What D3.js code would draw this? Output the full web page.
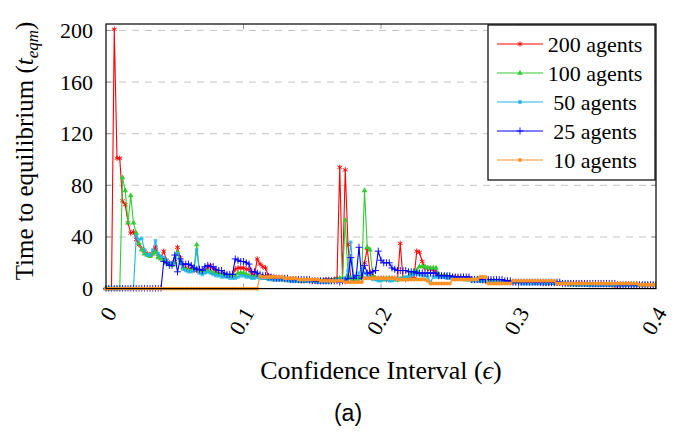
<!DOCTYPE html>
<html><head><meta charset="utf-8">
<script src="https://cdn.jsdelivr.net/npm/d3@7"></script>
<style>body{margin:0;background:#fff}svg{display:block}</style>
</head><body>
<svg id="chart" width="692" height="433"></svg>
<script>
// ---------------- DATA ----------------
const xTicks = [0, 0.1, 0.2, 0.3, 0.4];
const xTickLabels = ["0", "0.1", "0.2", "0.3", "0.4"];
const yTicks = [0, 40, 80, 120, 160, 200];
const yTickLabels = ["0", "40", "80", "120", "160", "200"];
const seriesNames = ["200 agents", "100 agents", "50 agents", "25 agents", "10 agents"];
const epsilonStep = 0.002; // sampling step of the confidence interval

const agents200 = [0,0,0,201,101,101,68,65,51,43,44,38,34,31,29,27,26,27,32,25,24,29,22,20,19,21,32,24,17,16,15,16,14,15,13,13,14,16,18,15,13,12,11,11,10,10,10,15,16,16,16,15,15,12,10,23,19,17,16,10,
 9,9,8,8,8,7,7,7,7,7,7,6,6,7,6,6,6,6,6,6,7,7,6,7,8,
 94,8,92,34,8,6,7,8,9,20,31,12,9,
 8,8,8,8,7,8,8,8,7,
 35,8,7,8,8,8,29,28,21,16,16,15,15,12,
 10,10,10,9,9,9,9,8,8,8,
 8,8,7,7,7,7,6,6,6,6,6,6,6,5,5,5,5,5,5,5,
 5,5,5,5,5,5,5,5,4,4,4,4,4,4,4,4,4,4,4,4,
 4,4,4,4,4,3,3,3,3,3,3,3,3,3,2,2,3,3,3,3,3,3,3,3,3,3,3,3,3,3];

const agents100 = [0,0,0,0,0,0,86,76,51,72,51,43,35,30,27,26,25,27,28,24,23,22,20,19,18,20,28,22,16,15,14,14,16,34,14,13,13,14,13,12,12,11,11,10,10,10,10,10,12,12,12,11,10,9,9,10,9,9,8,
 8,8,7,7,7,7,7,7,7,6,6,6,6,6,6,6,6,6,6,6,6,6,6,6,7,7,
 8,8,53,10,8,7,7,8,10,76,32,30,10,8,
 7,7,7,8,8,7,7,7,7,8,8,9,
 12,13,14,
 17,17,17,16,16,16,16,
 11,10,10,10,9,9,8,8,8,8,
 7,7,7,7,7,6,6,6,6,6,6,6,5,5,5,5,5,5,5,5,
 5,5,5,5,5,4,4,4,4,4,4,4,4,4,4,4,4,4,3,3,
 3,3,3,3,3,3,3,3,3,3,3,3,3,3,3,3,3,3,3,3,3,3,3,3,3,3,3,3,3,3];

const agents50 = [0,0,0,0,0,0,0,0,0,0,0,41,38,39,30,26,26,30,37,27,25,24,22,20,19,23,27,20,15,14,13,13,14,30,12,11,12,13,12,11,10,
 10,9,9,9,8,8,8,
 9,10,10,9,9,8,8,9,
 8,8,8,7,7,7,7,7,7,7,6,6,6,6,6,6,6,6,6,6,6,5,5,5,5,5,6,6,6,
 7,6,8,14,36,10,9,12,16,12,10,8,
 7,7,6,6,7,7,6,6,7,7,8,8,9,9,
 10,11,12,11,10,10,9,5,9,9,
 9,9,9,8,8,8,8,8,8,7,
 7,7,6,6,6,6,6,6,5,5,5,5,5,5,5,5,5,5,5,5,
 4,4,4,4,4,4,4,4,4,4,4,4,4,4,4,4,4,4,4,4,
 3,3,3,3,2.5,2.5,2.5,2.5,2.5,2.5,2.5,2.5,2.5,2.5,2.5,2.5,2.5,2.5,2.5,2.5,2.5,2.5,2.5,2.5,2.5,3,3,3,3,3];

const agents25 = [0,0,0,0,0,0,0,0,0,0,0,0,0,0,0,0,0,0,0,0,0,
 21,20,18,18,26,13,23,19,19,19,18,16,15,15,14,17,18,17,17,15,14,14,12,11,11,11,23,22,21,21,20,19,13,13,12,11,10,10,
 9,9,8,8,8,8,8,8,7,7,7,7,7,7,7,7,6,6,6,6,6,6,6,6,6,6,
 5,6,6,8,24,8,10,32,8,18,12,12,13,14,29,22,20,20,20,16,15,
 14,14,14,14,13,13,13,
 12,12,12,12,12,12,12,12,
 10,10,10,10,10,
 9,9,9,9,9,9,9,
 7,7,7,7,7,7,7,7,7,7,7,7,6,6,6,
 5,5,5,5,5,5,5,5,5,5,5,5,5,5,5,5,5,5,
 4,4,4,4,4,4,4,4,4,4,4,4,4,4,4,4,4,4,4,4,3,3,3,3,3,3,3,3,3,3,3,3,3,3,3];

const agents10 = [0,0,0,0,0,0,0,0,0,0,0,0,0,0,0,0,0,0,0,0,0,0,0,0,0,0,0,0,0,0,0,0,0,0,0,0,0,0,0,0,0,0,0,0,0,0,0,0,0,0,0,0,0,0,0,0,
 10,9,9,9,9,9,9,9,9,
 8,8,8,8,8,7,7,7,7,7,7,7,7,6,6,6,6,6,6,6,
 6,6,5,5,5,5,5,5,5,
 8,8,8,8,8,8,8,8,8,8,8,8,
 7,7,7,7,7,7,7,7,7,7,7,6,
 4,4,4,4,4,4,4,4,
 7,7,7,7,7,7,7,7,7,7,
 9,9,9,
 4,4,4,4,4,4,4,4,4,
 6,6,6,6,6,6,6,6,6,6,6,6,6,6,6,6,
 4,4,4,4,4,4,4,4,4,4,4,4,4,4,4,4,4,4,4,4,4,4,4,4,4,4,4,4,4,4,
 3,3,3,3,3,3,3];

const seriesValues = [agents200, agents100, agents50, agents25, agents10];
const seriesColors = ["#ff0000", "#33cc33", "#1fb4e8", "#0000ff", "#ff9224"];
const seriesMarks = ["star", "triangle", "square", "plus", "circle"];

// ---------------- CHART ----------------
const svg = d3.select("#chart");
const L = 106, R = 656, T = 24, B = 288.6;
const x = d3.scaleLinear().domain([0, 0.4]).range([L, R]);
const y = d3.scaleLinear().domain([0, 205]).range([B, T]);
const serif = "'Liberation Serif','Times New Roman',serif";

// grid
svg.append("g").selectAll("line").data(yTicks.filter(d => d > 0)).join("line")
  .attr("x1", L).attr("x2", R).attr("y1", d => y(d)).attr("y2", d => y(d))
  .attr("stroke", "#c4c4c4").attr("stroke-width", 1).attr("stroke-dasharray", "7,6");

// inner tick marks
const tg = svg.append("g").attr("stroke", "#999").attr("stroke-width", 1);
xTicks.slice(1, -1).forEach(t => {
  tg.append("line").attr("x1", x(t)).attr("x2", x(t)).attr("y1", B).attr("y2", B - 5);
  tg.append("line").attr("x1", x(t)).attr("x2", x(t)).attr("y1", T).attr("y2", T + 5);
});
yTicks.slice(1).forEach(t => {
  tg.append("line").attr("x1", L).attr("x2", L + 5).attr("y1", y(t)).attr("y2", y(t));
  tg.append("line").attr("x1", R).attr("x2", R - 5).attr("y1", y(t)).attr("y2", y(t));
});

// clip
svg.append("defs").append("clipPath").attr("id", "clip")
  .append("rect").attr("x", L - 3).attr("y", T).attr("width", R - L + 3).attr("height", B - T + 3);

function markPath(type) {
  if (type === "star") return d3.symbol(d3.symbolAsterisk, 20)();
  if (type === "triangle") return d3.symbol(d3.symbolTriangle, 14)();
  if (type === "square") return d3.symbol(d3.symbolSquare, 12)();
  if (type === "plus") return d3.symbol(d3.symbolPlus, 18)();
  return d3.symbol(d3.symbolCircle, 12)();
}

const plot = svg.append("g").attr("clip-path", "url(#clip)");
seriesValues.forEach((vals, si) => {
  const pts = vals.map((v, i) => [i * epsilonStep, v]);
  const col = seriesColors[si];
  const g = plot.append("g");
  g.append("path").datum(pts)
    .attr("d", d3.line().x(d => x(d[0])).y(d => y(d[1])))
    .attr("fill", "none").attr("stroke", col).attr("stroke-width", 1.1).attr("stroke-linejoin", "round");
  const mp = markPath(seriesMarks[si]);
  const stroky = seriesMarks[si] === "star" || seriesMarks[si] === "plus";
  g.selectAll("path.m").data(pts).join("path").attr("class", "m")
    .attr("d", mp)
    .attr("transform", d => `translate(${x(d[0])},${y(d[1])})`)
    .attr("fill", col).attr("fill-opacity", seriesMarks[si] === "square" ? 0.75 : 1)
    .attr("stroke", stroky ? col : "none").attr("stroke-width", stroky ? 0.9 : 0);
});

// frame
svg.append("rect").attr("x", L).attr("y", T).attr("width", R - L).attr("height", B - T)
  .attr("fill", "none").attr("stroke", "#000").attr("stroke-width", 1.2);

// y tick labels
svg.append("g").selectAll("text").data(yTicks).join("text")
  .attr("x", 93).attr("y", d => y(d)).attr("text-anchor", "end").attr("dominant-baseline", "central")
  .attr("font-family", serif).attr("font-size", 22).attr("fill", "#000")
  .text((d, i) => yTickLabels[i]);

// x tick labels (rotated)
svg.append("g").selectAll("text").data(xTicks).join("text")
  .attr("transform", d => `translate(${x(d) + 5},309) rotate(-60)`)
  .attr("text-anchor", "end").attr("dominant-baseline", "central")
  .attr("font-family", serif).attr("font-size", 22).attr("fill", "#000")
  .text((d, i) => xTickLabels[i]);

// axis titles
const xl = svg.append("text").attr("x", 381).attr("y", 379).attr("text-anchor", "middle")
  .attr("font-family", serif).attr("font-size", 26).attr("fill", "#000");
xl.append("tspan").text("Confidence Interval (");
xl.append("tspan").attr("font-style", "italic").text("ϵ");
xl.append("tspan").text(")");

const yl = svg.append("text").attr("transform", "translate(33,151) rotate(-90)").attr("text-anchor", "middle")
  .attr("font-family", serif).attr("font-size", 25).attr("fill", "#000");
yl.append("tspan").text("Time to equilibrium (");
yl.append("tspan").attr("font-style", "italic").text("t");
yl.append("tspan").attr("font-style", "italic").attr("font-size", 17).attr("dy", 5).text("eqm");
yl.append("tspan").attr("dy", -5).text(")");

// caption
svg.append("text").attr("x", 348).attr("y", 421).attr("text-anchor", "middle")
  .attr("font-family", "'Liberation Sans',Arial,sans-serif").attr("font-size", 23).attr("fill", "#000")
  .text("(a)");

// legend
const lg = svg.append("g");
lg.append("rect").attr("x", 488).attr("y", 25).attr("width", 167).attr("height", 155)
  .attr("fill", "#fff").attr("stroke", "#000").attr("stroke-width", 1.2);
seriesNames.forEach((name, i) => {
  const ly = 44 + i * 29;
  const col = seriesColors[i];
  lg.append("line").attr("x1", 497).attr("x2", 543).attr("y1", ly).attr("y2", ly)
    .attr("stroke", col).attr("stroke-width", 1.2);
  const stroky = seriesMarks[i] === "star" || seriesMarks[i] === "plus";
  lg.append("path").attr("d", markPath(seriesMarks[i])).attr("transform", `translate(520,${ly})`)
    .attr("fill", col).attr("stroke", stroky ? col : "none").attr("stroke-width", 0.9);
  lg.append("text").attr("x", 595).attr("y", ly).attr("text-anchor", "middle").attr("dominant-baseline", "central")
    .attr("font-family", serif).attr("font-size", 22).attr("fill", "#000").text(name);
});
</script>
</body></html>
